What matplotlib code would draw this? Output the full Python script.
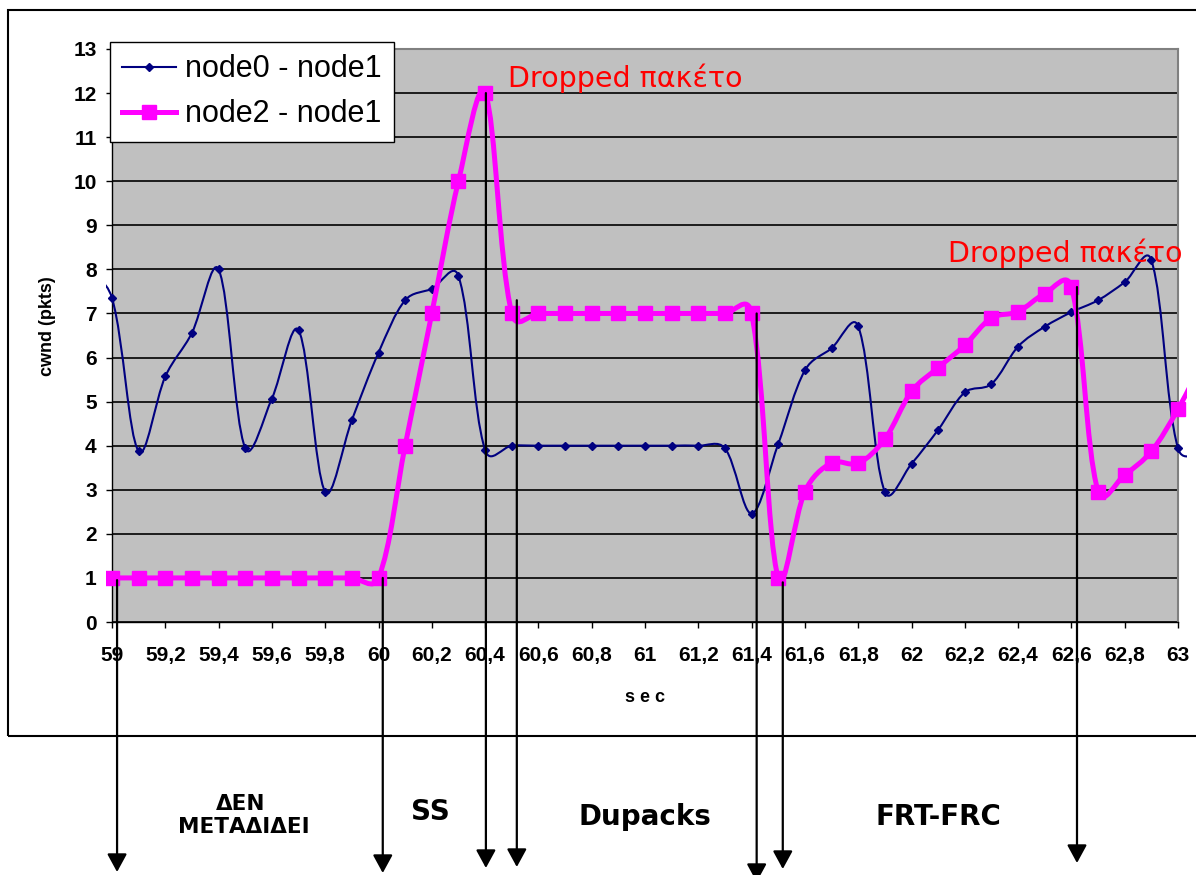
import matplotlib
matplotlib.use('Agg')
import matplotlib.pyplot as plt
from matplotlib.path import Path
from matplotlib.patches import PathPatch, Rectangle
from matplotlib.lines import Line2D
import numpy as np

plt.rcParams['font.family'] = ['Liberation Sans', 'DejaVu Sans']

# time (sec), one sample every 0.1 s
sec = [58.9, 59.0, 59.1, 59.2, 59.3, 59.4, 59.5, 59.6, 59.7, 59.8, 59.9,
       60.0, 60.1, 60.2, 60.3, 60.4, 60.5, 60.6, 60.7, 60.8, 60.9,
       61.0, 61.1, 61.2, 61.3, 61.4, 61.5, 61.6, 61.7, 61.8, 61.9,
       62.0, 62.1, 62.2, 62.3, 62.4, 62.5, 62.6, 62.7, 62.8, 62.9,
       63.0, 63.1]

# cwnd (pkts)
node0_node1 = [8.0, 7.35, 3.87, 5.57, 6.56, 8.0, 3.94, 5.07, 6.62, 2.95, 4.58,
               6.11, 7.30, 7.56, 7.85, 3.9, 4.0, 4.0, 4.0, 4.0, 4.0,
               4.0, 4.0, 4.0, 3.94, 2.46, 4.04, 5.71, 6.21, 6.71, 2.95,
               3.59, 4.36, 5.21, 5.40, 6.25, 6.70, 7.03, 7.30, 7.71, 8.21,
               3.94, 3.9]
node2_node1 = [1, 1, 1, 1, 1, 1, 1, 1, 1, 1, 1,
               1, 4, 7, 10, 12, 7, 7, 7, 7, 7,
               7, 7, 7, 7, 7, 1, 2.96, 3.61, 3.60, 4.15,
               5.23, 5.77, 6.28, 6.90, 7.04, 7.45, 7.60, 2.96, 3.34, 3.87,
               4.83, 6.0]

xtick_vals = [59, 59.2, 59.4, 59.6, 59.8, 60, 60.2, 60.4, 60.6, 60.8, 61,
              61.2, 61.4, 61.6, 61.8, 62, 62.2, 62.4, 62.6, 62.8, 63]
xtick_labels = ['59', '59,2', '59,4', '59,6', '59,8', '60', '60,2', '60,4',
                '60,6', '60,8', '61', '61,2', '61,4', '61,6', '61,8', '62',
                '62,2', '62,4', '62,6', '62,8', '63']

# phase arrows: time, cwnd where the arrow leaves the curve, tip (px from top)
arrow_sec = [59.019, 60.016, 60.403, 60.519, 61.419, 61.517, 62.621]
arrow_from = [0.95, 1.0, 12.0, 7.3, 7.0, 0.9, 7.6]
arrow_tip = [872, 873, 868, 867, 882, 869, 863]

W, H = 1196, 875
PX_X = (1178 - 112) / 4.0   # px per second
PX_Y = (622 - 49) / 13.0    # px per pkt


def smooth_path(x, y):
    # smoothed line: cubic bezier through every sample, tangents weighted
    # by the (screen) length of the neighbouring segments
    pts = np.column_stack([x, y]).astype(float)
    scr = pts * [PX_X, PX_Y]
    n = len(pts)

    def seg(i, j):
        return np.sqrt(np.hypot(*(scr[j] - scr[i])))

    verts = [pts[0]]
    codes = [Path.MOVETO]
    for i in range(n - 1):
        a, b = max(i - 1, 0), min(i + 2, n - 1)
        d01, d12, d23 = seg(a, i), seg(i, i + 1), seg(i + 1, b)
        r1 = d12 / (d01 + d12) if d01 > 0 else 0.5
        r2 = d12 / (d12 + d23) if d23 > 0 else 0.5
        c1 = pts[i] + (pts[i + 1] - pts[a]) * r1 / 3
        c2 = pts[i + 1] - (pts[b] - pts[i]) * r2 / 3
        verts += [c1, c2, pts[i + 1]]
        codes += [Path.CURVE4] * 3
    return Path(verts, codes)


fig = plt.figure(figsize=(W / 100, H / 100), dpi=100)
ax = fig.add_axes([112 / W, 1 - 622 / H, (1178 - 112) / W, (622 - 49) / H])
ax.set_facecolor('#C0C0C0')
ax.set_xlim(59, 63)
ax.set_ylim(0, 13)

clip = Rectangle((58.978, -1), 63.034 - 58.978, 16, transform=ax.transData)

series = [
    (node0_node1, '#000080', 1.5, 'D', 4, 3),
    (node2_node1, '#FF00FF', 3.6, 's', 10, 4),
]
for vals, col, lw, mk, ms, z in series:
    patch = PathPatch(smooth_path(sec, vals), fill=False, edgecolor=col,
                      lw=lw, zorder=z, capstyle='round', joinstyle='round')
    ax.add_patch(patch)
    patch.set_clip_path(clip)
    mline, = ax.plot(sec, vals, ls='none', marker=mk, ms=ms, color=col,
                     mec=col, zorder=z + 0.1)
    mline.set_clip_path(clip)

ax.set_yticks(range(0, 14))
ax.set_xticks(xtick_vals, xtick_labels)
ax.yaxis.grid(True, color='black', lw=1.2)
ax.set_axisbelow(True)
ax.tick_params(axis='y', direction='out', length=4, width=1, pad=7,
               labelsize=15)
ax.tick_params(axis='x', direction='out', length=4, width=1, pad=13,
               labelsize=15)
for lab in ax.get_xticklabels() + ax.get_yticklabels():
    lab.set_fontweight('bold')
for side in ['left', 'bottom']:
    ax.spines[side].set_color('black')
    ax.spines[side].set_linewidth(1)
for side in ['top', 'right']:
    ax.spines[side].set_color('#808080')
    ax.spines[side].set_linewidth(1.5)

fig.text(47 / W, 1 - 326 / H, 'cwnd (pkts)', rotation=90, ha='center',
         va='center', fontsize=13, fontweight='bold')
fig.text(645 / W, 1 - 697 / H, 's e c', ha='center', va='center',
         fontsize=13, fontweight='bold')

handles = [Line2D([], [], color='#000080', lw=1.5, marker='D', ms=4),
           Line2D([], [], color='#FF00FF', lw=3.6, marker='s', ms=10)]
leg = fig.legend(handles, ['node0 - node1', 'node2 - node1'],
                 loc='upper left', bbox_to_anchor=(110 / W, 1 - 42 / H),
                 fontsize=22, frameon=True, fancybox=False, shadow=False,
                 framealpha=1, borderpad=0.4, labelspacing=0.5,
                 handlelength=1.75, handletextpad=0.3, borderaxespad=0,
                 numpoints=1)
leg.get_frame().set_edgecolor('black')
leg.get_frame().set_linewidth(1)
leg.set_zorder(10)

# dropped packet notes
ax.text(60.485, 12.14, 'Dropped πακέτο', color='red', fontsize=20.5,
        family='DejaVu Sans', ha='left', va='baseline', zorder=6)
ax.text(62.136, 8.17, 'Dropped πακέτο', color='red', fontsize=20.5,
        family='DejaVu Sans', ha='left', va='baseline', zorder=6,
        clip_on=False)

# phase boundaries
for xs, y0, tip in zip(arrow_sec, arrow_from, arrow_tip):
    ax.annotate('', xy=(xs, H - tip), xycoords=('data', 'figure pixels'),
                xytext=(xs, y0), textcoords='data',
                arrowprops=dict(arrowstyle='-|>,head_length=0.55,head_width=0.3',
                                lw=1.6, color='black', shrinkA=0, shrinkB=0,
                                mutation_scale=20),
                annotation_clip=False, zorder=7)

# outer chart frame
fig.patches.append(Rectangle((8 / W, 1 - 736 / H), 1.05 - 8 / W,
                             (736 - 10) / H, transform=fig.transFigure,
                             fill=False, edgecolor='black', lw=1.5,
                             clip_on=False))

# phase names
bold = dict(family='DejaVu Sans', fontweight='bold', ha='center',
            va='baseline')
fig.text(241 / W, 1 - 810 / H, 'ΔΕΝ', fontsize=15.5, **bold)
fig.text(244 / W, 1 - 833 / H, 'ΜΕΤΑΔΙΔΕΙ', fontsize=15.5, **bold)
fig.text(430 / W, 1 - 820 / H, 'SS', fontsize=20, **bold)
fig.text(645 / W, 1 - 825 / H, 'Dupacks', fontsize=20, **bold)
fig.text(938 / W, 1 - 825 / H, 'FRT-FRC', fontsize=20, **bold)

fig.savefig('out.png', dpi=100, facecolor='white')
